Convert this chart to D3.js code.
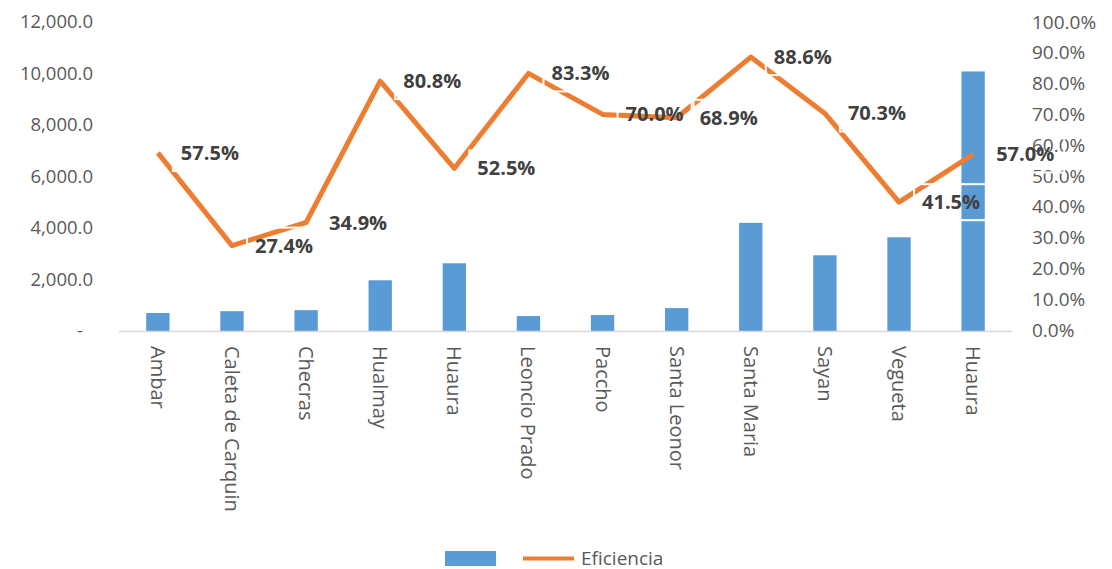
<!DOCTYPE html>
<html>
<head>
<meta charset="utf-8">
<script src="https://cdn.jsdelivr.net/npm/d3@7"></script>
<style>
    body { margin: 0; background: #fff; }
    svg text { font-family: "Open Sans", "Noto Sans", sans-serif; }
</style>
</head>
<body>
<svg id="chart" width="1112" height="569"></svg>
<script>
// distritos y valores
const categories = ["Ambar", "Caleta de Carquin", "Checras", "Hualmay", "Huaura", "Leoncio Prado",
    "Paccho", "Santa Leonor", "Santa Maria", "Sayan", "Vegueta", "Huaura"];
const barValues = [700, 770, 810, 1970, 2630, 580, 620, 890, 4200, 2940, 3640, 10080];
const eficiencia = [0.575, 0.274, 0.349, 0.808, 0.525, 0.833, 0.700, 0.689, 0.886, 0.703, 0.415, 0.570];
const leftTicks = [0, 2000, 4000, 6000, 8000, 10000, 12000];
const rightTicks = [0, 0.1, 0.2, 0.3, 0.4, 0.5, 0.6, 0.7, 0.8, 0.9, 1.0];

let svg = d3.select("#chart");
let margin = {top: 22, left: 121, right: 102, bottom: 238};
let width = 1112 - margin.left - margin.right;
let height = 569 - margin.top - margin.bottom;

let x = d3.scaleBand()
    .domain(d3.range(categories.length))
    .range([0, width])
    .paddingInner(0.685)
    .paddingOuter(0.34);
let yLeft = d3.scaleLinear().domain([0, 12000]).range([height, 0]);
let yRight = d3.scaleLinear().domain([0, 1]).range([height - 1, 0]);

let g = svg.append("g")
    .attr("transform", "translate(" + margin.left + "," + margin.top + ")");

// eje izquierdo
let leftAxis = d3.axisLeft(yLeft)
    .tickValues(leftTicks)
    .tickSize(0)
    .tickPadding(28)
    .tickFormat(d => d === 0 ? "-" : d3.format(",.1f")(d));
g.append("g").attr("class", "y-left").call(leftAxis)
    .call(a => a.select(".domain").remove())
    .selectAll("text")
    .attr("font-size", 18.5)
    .attr("fill", "#595959")
    .attr("dx", d => d === 0 ? -10 : 0);

// eje derecho
let rightAxis = d3.axisRight(yRight)
    .tickValues(rightTicks)
    .tickSize(0)
    .tickPadding(22)
    .tickFormat(d3.format(".1%"));
g.append("g").attr("class", "y-right")
    .attr("transform", "translate(" + width + ",0)")
    .call(rightAxis)
    .call(a => a.select(".domain").remove())
    .selectAll("text")
    .attr("font-size", 19)
    .attr("fill", "#595959");

// barras
g.selectAll(".bar")
    .data(barValues)
    .enter().append("rect")
    .attr("class", "bar")
    .attr("x", (d, i) => x(i))
    .attr("width", x.bandwidth())
    .attr("y", d => yLeft(d))
    .attr("height", d => height - yLeft(d))
    .attr("fill", "#5B9BD5");

// linea base
g.append("line")
    .attr("x1", -2).attr("x2", width + 2)
    .attr("y1", height + 0.5).attr("y2", height + 0.5)
    .attr("stroke", "#d9d9d9")
    .attr("stroke-width", 1.5);

// etiquetas del eje x
g.selectAll(".xlabel")
    .data(categories)
    .enter().append("text")
    .attr("class", "xlabel")
    .attr("transform", (d, i) => "translate(" + (x(i) + x.bandwidth() / 2 - 7) + "," + (height + 15) + ") rotate(90)")
    .attr("font-size", 20)
    .attr("fill", "#595959")
    .text(d => d);

// linea de eficiencia
let cx = i => x(i) + x.bandwidth() / 2;
let line = d3.line()
    .x((d, i) => cx(i))
    .y(d => yRight(d));
g.append("path")
    .datum(eficiencia)
    .attr("d", line)
    .attr("fill", "none")
    .attr("stroke", "#ED7D31")
    .attr("stroke-width", 5)
    .attr("stroke-linejoin", "round");

// etiquetas de datos (con borde blanco como en Excel)
let labels = g.selectAll(".dlabel")
    .data(eficiencia)
    .enter().append("g")
    .attr("class", "dlabel")
    .attr("transform", (d, i) => "translate(" + (cx(i) + 23) + "," + yRight(d) + ")");
labels.append("rect")
    .attr("x", -8).attr("y", -18)
    .attr("width", 76).attr("height", 36)
    .attr("fill", "none")
    .attr("stroke", "#fff")
    .attr("stroke-width", 2);
labels.append("text")
    .attr("dy", "0.35em")
    .attr("font-size", 20)
    .attr("font-weight", "bold")
    .attr("fill", "#404040")
    .text(d => d3.format(".1%")(d));

// leyenda
let legend = svg.append("g").attr("transform", "translate(445,551)");
legend.append("rect")
    .attr("width", 51).attr("height", 15)
    .attr("fill", "#5B9BD5");
legend.append("line")
    .attr("x1", 78).attr("x2", 129)
    .attr("y1", 7.5).attr("y2", 7.5)
    .attr("stroke", "#ED7D31")
    .attr("stroke-width", 4);
legend.append("text")
    .attr("x", 136).attr("y", 14)
    .attr("font-size", 19)
    .attr("fill", "#595959")
    .text("Eficiencia");
</script>
</body>
</html>
